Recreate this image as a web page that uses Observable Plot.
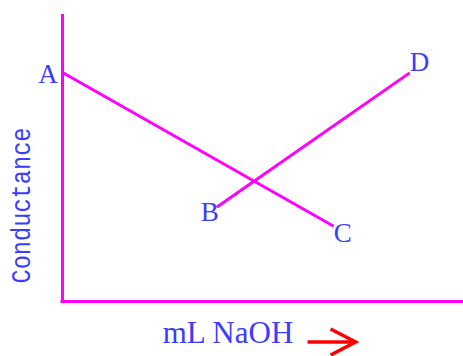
<!DOCTYPE html>
<html><head><meta charset="utf-8">
<script src="https://cdn.jsdelivr.net/npm/d3@7"></script>
<script src="https://cdn.jsdelivr.net/npm/@observablehq/plot@0.6"></script>
<style>body{margin:0;background:#fff}#chart svg{display:block}</style>
</head><body><div id="chart"></div>
<script>
const pointLabels = ["A", "B", "C", "D"];
const mLNaOH = [0, 3.87, 6.73, 8.63];
const conductance = [7.98, 3.31, 2.65, 7.94];
const segments = [["A", "C"], ["B", "D"]];
const yTitle = "Conductance";
const xTitle = "mL NaOH";
const arrowSpan = [6.11, 7.31];

const pts = pointLabels.map((label, i) => ({label, x: mLNaOH[i], y: conductance[i]}));
const lineData = segments.flatMap((s, k) => s.map(l => ({...pts.find(p => p.label === l), seg: k})));

const blue = "#3c3cff", magenta = "#ff00ff", red = "#ff0000";
const labelOffsets = {A: [-14.5, 1.5], B: [-8, 5.5], C: [10.5, 8], D: [11, -11]};

const chevron = {
  draw(ctx) { ctx.moveTo(-25, -13); ctx.lineTo(0, 0); ctx.lineTo(-25, 13); }
};

const plot = Plot.plot({
  width: 463, height: 356,
  marginLeft: 62, marginRight: 0, marginTop: 14, marginBottom: 55,
  x: {domain: [0, 10], axis: null},
  y: {domain: [0, 10], axis: null},
  marks: [
    Plot.ruleX([0], {stroke: magenta, strokeWidth: 3}),
    Plot.ruleY([0], {stroke: magenta, strokeWidth: 3, insetLeft: -1.5}),
    Plot.line(lineData, {x: "x", y: "y", z: "seg", stroke: magenta, strokeWidth: 3}),
    ...pointLabels.map(l => Plot.text(pts.filter(p => p.label === l), {
      x: "x", y: "y", text: "label", dx: labelOffsets[l][0], dy: labelOffsets[l][1],
      fill: blue, fontSize: 27, fontFamily: "Liberation Serif"
    })),
    Plot.text([yTitle], {text: d => d, frameAnchor: "left", textAnchor: "start", dx: -41, dy: 125.5, rotate: -90,
      fill: blue, fontSize: 28, fontFamily: "Liberation Mono"}),
    Plot.text([xTitle], {text: d => d, frameAnchor: "bottom", dx: -35, dy: 41,
      fill: blue, fontSize: 31, fontFamily: "Liberation Serif"}),
    Plot.link([arrowSpan], {x1: d => d[0], x2: d => d[1], y1: () => 0, y2: () => 0, dy: 40.5,
      stroke: red, strokeWidth: 3.5}),
    Plot.dot([arrowSpan], {x: d => d[1], y: () => 0, dy: 40.5, symbol: chevron, r: 10,
      fill: "none", stroke: red, strokeWidth: 3.5})
  ]
});
d3.select(plot).selectAll("text").filter(function() { return this.textContent === yTitle; })
  .attr("textLength", 156).attr("lengthAdjust", "spacingAndGlyphs");
document.getElementById("chart").appendChild(plot);
</script>
</body></html>
